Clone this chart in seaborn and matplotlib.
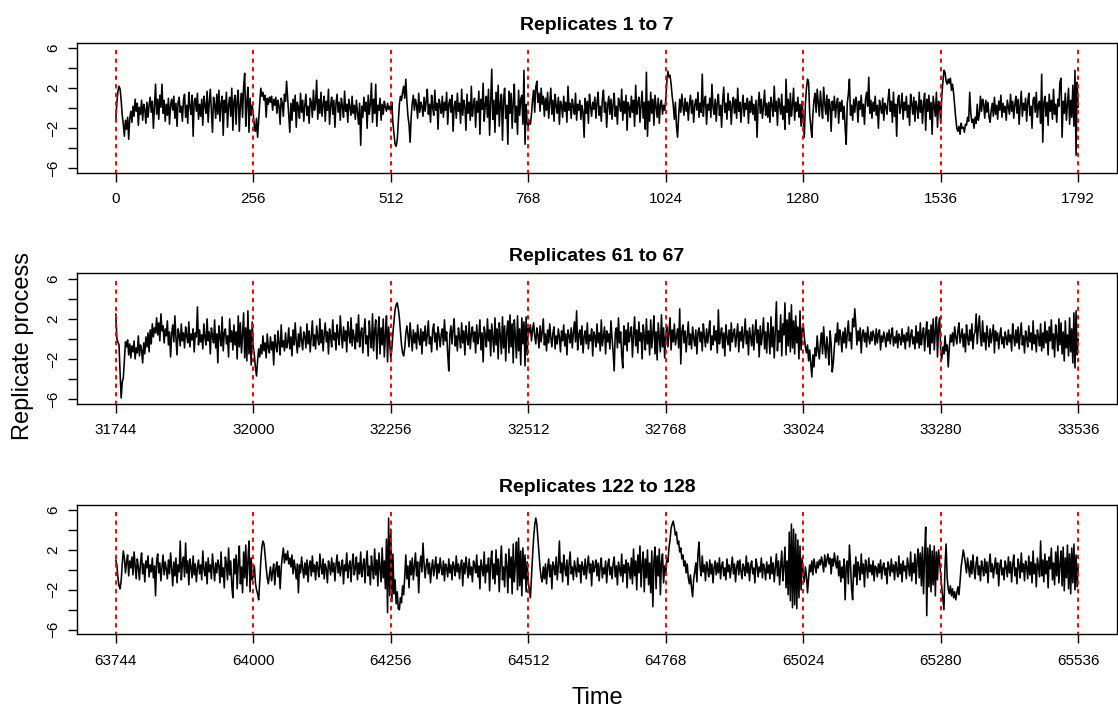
import numpy as np
import pandas as pd
import seaborn as sns
import matplotlib
matplotlib.use("Agg")
import matplotlib.pyplot as plt

sns.set_theme(style="ticks")
plt.rcParams['font.family'] = ['Liberation Sans', 'DejaVu Sans']
plt.rcParams['text.color'] = 'black'
plt.rcParams['axes.labelcolor'] = 'black'
plt.rcParams['xtick.color'] = 'black'
plt.rcParams['ytick.color'] = 'black'

# ---- data -------------------------------------------------------------
panel_titles = ["Replicates 1 to 7", "Replicates 61 to 67", "Replicates 122 to 128"]
panel_starts = [0, 31744, 63744]
block_len = 256
n_blocks = 7
y_ticks = [-6, -4, -2, 0, 2, 4, 6]
y_tick_labels = ["\u22126", "", "\u22122", "", "2", "", "6"]

# sampled every 2 time steps, 16 samples (32 steps) per row
rep_1_7 = [
    -1.2, 0.6, 1.7, 2.2, 1.9, 0.8, -0.7, -1.6, -2.8, -1.2, -2.1, -0.9, -3.1, -1.0, -0.3, -1.4,
    0.2, -0.8, 0.9, -0.3, 0.5, -1.7, 0.1, -0.6, 0.8, -1.2, 0.4, -0.1, -1.5, 0.6, -0.9, 0.3,
    1.1, -0.4, 0.7, -2.0, 0.2, 2.4, -0.6, 0.9, -1.1, 1.3, 0.1, 2.4, -0.5, 0.8, -1.3, 0.4,
    -0.7, 1.0, -1.6, 0.3, 0.9, -0.2, 1.2, -1.0, 0.5, -1.8, 0.6, 1.1, -0.4, 0.2, -1.3, 0.8,
    1.4, -0.9, 0.3, -1.5, 1.6, 0.2, -0.6, 1.3, -2.8, 0.7, 1.0, -0.3, 1.5, -1.1, 0.4, -0.8,
    0.9, -1.7, 1.2, 0.3, -0.5, 1.7, -1.4, 0.6, 1.9, -0.2, -2.4, 1.1, 0.4, -1.0, 1.4, -0.6,
    1.8, -1.3, 0.5, 1.2, -2.7, 0.8, -0.4, 1.6, -1.9, 0.3, 1.1, -0.8, 2.0, -2.2, 0.7, 1.3,
    -1.6, 0.9, 1.8, -2.3, 0.4, 1.5, -0.9, 2.2, 3.5, -1.8, 0.6, 2.1, -2.4, 1.0, -0.7, 0.3,
    -0.6, -1.8, -2.3, -1.0, -2.9, -1.2, 0.5, 2.0, 1.2, 1.6, 0.8, 1.3, -0.9, 1.0, 0.4, 1.1,
    0.6, 1.2, -0.2, 0.9, 0.3, 1.1, -0.5, 0.8, 0.2, -1.6, 1.0, 0.5, -0.8, 1.4, 0.7, 2.7,
    1.0, -0.6, -2.4, 0.5, -1.2, 0.9, -0.3, 1.3, -1.9, 0.6, 0.1, -1.0, 1.5, -0.4, 0.8, -1.3,
    0.3, 1.4, -0.7, 0.2, -1.5, 1.0, 0.6, -0.9, 1.8, -0.2, 0.5, 2.8, -1.1, 0.9, -0.5, 1.6,
    -0.8, 0.4, 1.2, -1.3, 0.7, -0.2, 1.9, -1.6, 0.3, 1.1, -0.6, 0.8, -1.9, 0.5, 1.4, -0.4,
    0.6, -1.2, 1.0, 0.2, -0.9, 1.7, -0.3, 0.4, -1.4, 0.9, 0.1, -0.7, 1.2, -0.5, 0.3, -1.1,
    0.8, -0.4, -1.6, 0.5, -3.7, 0.2, -0.9, 1.1, -0.3, 0.6, -2.0, 1.3, -0.6, 0.4, 2.5, -1.4,
    0.9, -0.5, 2.4, -1.8, 0.3, -0.2, 1.0, -1.2, 0.4, -0.6, 0.7, 0.1, -0.3, 0.5, -0.1, 0.2,
    -0.4, 0.6, -1.5, -2.6, -3.6, -3.8, -3.2, -1.4, 0.4, 1.2, 0.8, 1.6, 2.2, 1.0, 2.9, 0.7,
    -0.8, -1.6, -3.4, -0.9, 0.5, 1.3, -0.2, 0.9, 0.3, -1.0, 1.5, -0.4, 0.6, 0.2, -0.8, 1.1,
    -0.3, 0.7, 1.9, -0.6, 0.4, -1.4, 1.3, 0.1, -0.7, 1.8, -0.2, 0.5, -2.1, 0.9, 0.3, -0.5,
    1.2, -0.9, 0.6, -0.2, 1.6, -1.6, 0.4, 0.9, -0.4, 1.3, -2.3, 0.2, 0.7, -1.0, 1.5, -0.3,
    0.5, -1.5, 1.9, -0.7, 0.8, 0.2, -2.2, 1.4, -0.5, 0.6, -1.2, 2.2, -0.8, 0.3, 1.0, -1.9,
    0.7, -0.4, 1.7, -2.6, 0.9, -0.1, 2.5, -1.3, 0.4, 1.2, -0.9, 1.9, -2.7, 0.6, 3.9, -1.1,
    0.8, -2.4, 1.6, -0.6, 2.3, -1.8, 0.5, 1.4, -3.2, 0.9, 2.0, -1.0, 0.3, -3.6, 1.7, -0.5,
    1.5, -2.0, 0.6, 2.4, -1.4, 0.2, -2.6, 1.8, -0.7, 0.9, 1.3, -1.6, 3.8, -3.6, 0.4, -1.5,
    -1.8, -1.2, -1.6, -0.6, 0.9, 1.8, -0.4, 2.1, 2.7, 0.6, 1.5, -0.3, 2.0, 0.4, 1.2, -0.8,
    1.0, -0.2, 1.6, -1.0, 0.5, 2.0, -0.6, 0.8, -1.3, 1.4, 0.2, -0.5, 1.1, -1.6, 0.7, 0.3,
    -0.9, 1.2, -0.3, 0.6, -1.4, 2.2, -0.2, 0.5, -1.0, 0.9, 0.1, -0.6, 1.5, -1.2, 0.4, -0.2,
    0.8, -1.1, 0.3, -0.4, -2.9, 1.0, -0.5, 0.7, -1.5, 1.4, 0.2, -0.8, 0.6, -0.1, 1.1, -1.0,
    0.5, 1.6, -0.7, 0.2, -1.3, 0.9, 1.8, -0.4, 0.6, -1.9, 0.3, 1.2, -0.6, 0.9, -1.1, 0.4,
    1.5, -0.8, 0.2, -1.6, 1.0, 0.4, -0.3, 1.9, -1.2, 0.7, -0.5, 1.3, -2.2, 0.6, 0.1, -0.9,
    1.2, -0.4, 0.8, -1.8, 2.3, -0.6, 0.5, 1.1, -1.4, 0.3, 1.7, -1.0, 0.6, -2.1, 3.6, -2.8,
    0.7, -1.3, 1.6, -0.5, 0.9, -1.7, 1.3, 0.2, -0.9, 1.0, -1.5, 0.4, 0.8, -0.6, 0.3, -0.2,
    0.8, 2.6, 3.7, 3.1, 3.3, 2.4, 1.2, 0.3, -1.1, 0.6, -1.8, -2.9, -0.8, 0.9, -0.4, 1.4,
    0.2, -0.7, 1.0, -0.3, 0.6, -1.2, 0.4, 1.3, -0.5, 0.8, -1.4, 0.3, 0.9, -0.2, 1.6, -0.9,
    0.5, -0.4, 3.4, -0.8, 0.7, 1.2, -1.6, 0.4, -0.2, 1.0, -0.9, 2.4, 0.1, -0.6, 0.9, -1.3,
    0.6, 1.4, -0.7, 0.3, -1.9, 0.8, 2.1, -0.4, 0.5, -1.1, 1.5, -0.2, 0.7, -1.6, 0.4, 1.1,
    -0.5, 0.9, -1.0, 2.0, -0.3, 0.6, -1.4, 0.2, 1.3, -0.8, 0.5, -0.1, 1.0, -1.5, 0.7, -0.4,
    1.2, -0.6, 0.4, -1.2, 0.8, -2.9, 0.3, 1.6, -0.5, 0.9, -1.0, 0.2, 1.8, -0.7, 0.5, -0.9,
    0.6, -1.4, 1.1, 0.3, -0.8, 2.2, -0.3, 0.7, -1.7, 1.0, 0.4, -0.6, 1.4, -1.1, 0.2, -2.1,
    2.9, -0.4, 0.9, -1.6, 1.5, -0.8, 0.3, 2.0, -1.2, 0.6, -0.3, 1.1, -0.9, 0.4, -1.8, 0.7,
    -1.2, -2.9, 0.4, 2.0, 2.9, 2.6, -0.5, -1.8, -2.9, -0.6, 0.8, 1.5, -0.4, 1.9, 0.6, -0.8,
    1.7, 0.2, -1.0, 2.1, 0.5, -0.6, 1.3, -1.3, 0.9, 0.3, -2.3, 0.7, -0.2, 1.2, -0.9, 0.4,
    1.0, -1.5, 0.6, -0.3, 0.8, -1.1, 0.2, -1.9, -3.6, 0.5, 1.4, 2.9, -0.7, 0.3, -1.2, 0.9,
    -0.4, 1.1, 0.5, -1.4, 0.7, -0.1, 1.3, -0.8, 0.4, -1.6, 0.9, 1.6, 0.2, 3.1, -0.5, 0.8,
    -1.0, 0.6, -0.3, 1.2, -0.7, 0.3, -2.0, 0.8, 0.1, -0.5, 1.0, -1.2, 0.5, 0.2, -0.6, 0.9,
    1.9, -0.3, 0.7, -1.4, 1.6, -0.8, 0.4, -2.8, 0.9, 1.3, -0.5, 0.2, 1.5, -1.1, 0.6, -0.2,
    1.2, -0.9, 0.3, -1.7, 1.4, 0.5, -0.6, 1.1, -1.3, 0.7, 0.1, -1.0, 1.6, -0.4, 0.8, -1.5,
    0.4, 1.5, -2.2, 0.9, -0.3, 1.3, -1.1, 0.6, -2.6, 1.2, 0.2, -0.8, 1.6, -1.9, 0.7, 0.3,
    -1.5, 1.2, 2.6, 3.8, 3.6, 2.7, 2.4, 2.9, 2.5, 3.0, 1.8, 2.4, 1.5, 0.2, -1.0, -2.0,
    -2.3, -1.8, -2.6, -1.5, -2.0, -1.9, -2.4, -1.6, -1.7, -0.9, -1.3, 1.6, -0.5, -1.4, -1.1, -2.0,
    -0.9, -1.5, 0.4, -1.2, -0.6, 1.2, -0.3, 0.9, 0.4, -1.0, 0.8, -0.4, 0.6, -0.9, -1.4, -0.2,
    0.5, -0.8, 1.1, -0.6, 0.3, -1.1, 0.7, -0.2, 1.3, -0.9, 0.5, -0.4, 0.2, -1.2, 0.8, 0.1,
    -0.6, 1.4, -0.3, 0.7, -1.0, 0.4, 1.2, -0.5, 0.9, -1.6, 0.3, 1.7, -0.8, 0.5, -0.2, 1.0,
    -1.3, 0.6, 1.5, -0.7, 0.2, -2.0, 0.9, 1.1, -0.4, 1.6, -0.9, 0.3, 0.7, -1.5, 3.4, -3.4,
    0.5, 1.2, -0.8, 0.6, -1.7, 1.4, -0.3, 0.8, -1.1, 1.9, -0.6, 0.4, -1.4, 0.9, 0.2, 2.6,
    3.0, -2.9, 0.7, -0.5, 1.5, -1.2, 0.4, 2.0, -1.6, 0.8, -0.9, 2.3, -1.8, 3.8, -4.7, 2.6,
    0.1,
]

rep_61_67 = [
    2.5, 0.0, -0.3, -0.6, -3.4, -5.9, -4.3, -3.9, -2.1, -0.3, -0.8, -0.1, -1.6, -0.5, -1.9, -0.7,
    -1.3, -0.2, -2.0, -0.9, -1.4, 0.3, -1.7, -0.6, -1.1, -2.4, -0.4, -1.5, 0.2, -0.8, 0.6, -1.3,
    0.9, -0.5, 1.5, 0.2, 1.1, 0.6, 2.1, 0.4, 1.6, -0.2, 2.5, 0.8, 1.3, -0.4, 1.0, 0.3,
    1.8, -0.6, 0.7, -1.8, 0.5, 1.4, -0.3, 2.3, 0.1, -1.6, 1.0, 0.4, -0.7, 1.5, -0.2, 0.6,
    -0.9, 1.2, 0.3, -0.4, 1.7, -0.8, 0.5, -0.1, 1.0, -1.3, 0.6, 0.2, 3.2, -0.6, 0.9, -0.3,
    0.4, -1.0, 1.5, 0.1, -0.6, 2.0, -0.2, 0.7, -1.5, 1.1, 0.3, -0.4, 1.9, -0.9, 0.5, -2.4,
    1.3, 0.2, -0.7, 2.2, -1.2, 0.6, 1.0, -0.5, 0.3, -1.8, 2.0, -0.3, 0.8, -1.1, 1.4, -0.6,
    0.7, -2.0, 2.3, -0.8, 1.6, -1.4, 0.4, 2.6, -1.9, 1.1, -2.2, 2.8, -1.5, 0.9, -2.6, 1.7,
    -0.8, -1.6, -2.9, -3.7, -2.2, -1.0, -1.8, -0.6, -1.5, 0.3, -1.2, -0.4, -1.9, 0.5, -0.9, -1.4,
    0.2, -1.1, -0.3, -2.6, 0.4, -0.7, -1.3, 0.8, -0.5, -1.6, 1.4, -0.8, -0.2, -1.2, 0.6, -0.9,
    -0.4, 1.1, -1.0, 0.2, -1.7, 0.9, -0.6, 1.6, -0.3, -1.4, 0.5, -0.8, 1.2, -0.2, -1.1, 0.7,
    0.3, -0.9, 1.5, -0.5, 0.8, -1.3, 0.2, 1.8, -0.7, 0.4, -1.0, 1.3, 0.1, -0.6, 2.0, -0.4,
    0.9, -1.2, 0.5, 1.6, -0.3, 0.7, -1.5, 1.0, 0.2, -0.8, 1.9, -0.1, 0.6, -1.1, 1.4, 0.3,
    -0.6, 2.3, 0.4, -0.9, 1.2, -0.2, 0.8, -1.3, 1.7, 0.5, -0.4, 2.1, -0.7, 0.9, 0.1, -1.0,
    1.5, -0.3, 2.4, -0.8, 0.6, 1.1, -1.4, 0.7, 2.0, -0.5, 0.3, -1.7, 1.8, 0.2, -0.9, 2.5,
    -1.2, 0.8, 1.9, -2.0, 0.5, 2.2, -1.5, 1.1, -0.6, 2.0, -1.8, 0.4, 2.3, -2.3, 1.2, -0.4,
    -1.9, -1.0, 0.6, 1.8, 2.9, 3.4, 3.6, 3.0, 2.1, 0.8, -0.6, -1.4, -1.7, -0.9, 0.5, 1.3,
    0.4, -0.8, 1.6, 0.2, -1.2, 0.9, -0.4, 0.6, -1.0, 1.4, 0.1, -0.6, 1.0, -1.5, 0.7, -0.2,
    1.3, -0.7, 0.4, 1.8, -0.5, 0.2, -1.3, 0.9, 1.5, -0.3, 0.6, -1.1, 1.2, 0.3, -0.8, 0.5,
    1.0, -0.6, 1.9, -0.2, 0.7, -1.5, -3.2, 0.4, 1.3, -0.5, 0.9, 2.0, -0.7, 0.3, -1.2, 1.1,
    0.2, -0.9, 1.6, -0.4, 0.8, -1.6, 1.3, 0.1, -0.6, 1.7, -1.0, 0.5, 1.2, -0.3, 0.7, -1.4,
    1.4, -0.5, 0.3, 1.9, -1.1, 0.6, -2.3, 1.2, 0.4, -0.8, 2.0, -0.2, 0.9, -1.7, 1.5, 0.1,
    -1.3, 2.1, -0.6, 1.0, -2.0, 1.6, 0.3, -1.5, 2.2, -0.9, 1.3, -2.2, 0.7, 1.8, -1.4, 2.4,
    -0.8, 1.5, -2.4, 1.9, 0.2, -1.9, 2.3, -1.2, 1.0, -2.6, 2.1, -0.5, 1.7, -2.7, 2.2, -1.6,
    1.2, 0.6, 1.4, -0.2, 0.9, 1.6, 0.3, -0.5, 1.1, 0.4, -0.9, 1.3, -0.3, 0.7, 2.0, -0.6,
    0.5, -1.2, 0.9, -0.4, 1.5, 0.1, -0.8, 0.6, 1.2, -1.0, 0.3, -0.5, 1.0, 0.2, -1.3, 0.8,
    -0.2, 1.4, -0.7, 0.5, -1.6, 0.9, 0.3, -0.4, 1.1, -0.9, 0.6, 1.7, -0.3, 2.8, -1.1, 0.4,
    0.9, -0.6, 1.3, -1.4, 0.2, 0.8, -0.5, 1.6, -1.0, 0.4, -0.2, 1.0, -1.7, 0.7, 0.3, -0.8,
    1.5, -0.4, 0.6, -1.2, 1.9, -0.7, 0.3, 1.2, -1.5, 0.8, -0.3, 0.5, -1.0, 1.8, 0.1, -1.3,
    -3.2, 0.6, 1.1, -0.9, 2.1, -0.4, 0.7, -1.6, -2.9, 1.3, -0.6, 0.9, -1.2, 1.6, -0.3, 0.5,
    1.2, -1.8, 0.4, 2.2, -0.7, 0.9, -1.4, 1.7, -0.2, 0.6, -2.0, 1.4, 0.3, -1.1, 2.0, -0.5,
    0.8, -1.6, 1.9, -0.9, 0.5, 2.3, -1.5, 0.7, -2.1, 1.6, 0.2, -1.3, 2.4, -0.8, 1.1, -1.9,
    0.4, 1.3, -0.8, 0.6, 2.1, -1.1, 0.9, -0.3, 1.5, -0.6, 0.2, 1.0, -0.9, 3.0, -2.5, 0.7,
    1.4, -0.4, 0.8, -1.3, 0.3, 1.7, -0.6, 0.5, -1.0, 1.2, 0.1, -0.7, 0.9, -1.5, 0.6, 1.1,
    -0.3, 0.7, -1.2, 1.5, 0.2, -0.8, 1.0, -0.4, 0.6, 1.8, -1.1, 0.3, -0.6, 1.3, -0.2, 0.8,
    -1.4, 2.9, -0.5, 0.4, 1.1, -0.9, 0.6, -1.7, 1.4, 0.2, -0.6, 0.9, -1.2, 1.6, -0.3, 0.5,
    1.0, -0.8, 0.3, 1.5, -1.3, 0.7, -0.2, 1.2, -0.9, 0.4, 2.0, -0.5, 0.8, -1.6, 1.1, 0.2,
    -0.7, 1.4, -1.1, 0.6, 1.9, -0.4, 0.9, -1.8, 1.3, -0.6, 0.5, 2.1, -1.0, 0.7, -1.4, 1.6,
    0.3, -1.5, 2.2, -0.8, 1.2, -1.9, 1.0, 3.7, -1.2, 0.8, -0.3, 2.4, -1.7, 1.5, 0.4, 3.6,
    -1.6, 1.9, -0.7, 2.6, -1.3, 3.4, -0.9, 1.8, -1.5, 2.3, -0.4, 1.2, -2.0, 2.8, -1.1, 0.9,
    1.5, 0.2, -0.8, -1.4, -0.6, -2.2, -1.1, -2.5, -3.8, -1.6, -2.8, -0.9, -1.7, 0.3, -1.2, -2.0,
    -0.4, 0.6, -1.5, 1.2, -0.7, -1.9, 0.2, -1.0, -2.6, 0.8, -0.5, -3.3, -2.4, -0.8, 0.5, -0.3,
    1.6, -0.6, 0.9, 0.2, -1.3, 0.7, -0.4, 1.1, -0.9, 0.4, 1.8, -0.2, 0.6, -1.0, 2.0, 1.2,
    3.0, 1.4, -0.6, 0.8, -0.2, 1.1, -1.4, 0.5, 0.9, -0.3, 0.6, -0.8, 1.2, 0.1, -0.5, 0.7,
    -0.2, 0.8, 0.3, -0.6, 1.0, -0.4, 0.5, 0.9, -1.1, 0.3, -0.3, 0.7, 0.1, -0.8, 0.6, -0.2,
    0.9, -0.5, 0.4, 1.1, -0.7, 0.2, -0.4, 0.8, -0.9, 0.5, 0.1, -0.6, 1.0, -0.3, 0.4, -1.0,
    0.6, -0.2, 1.2, -0.8, 0.3, 0.9, -0.5, 0.2, -1.0, 1.3, -0.4, 0.7, -0.9, 1.6, -0.6, 0.4,
    1.1, -1.2, 0.5, 1.7, -0.8, 0.9, -1.5, 1.4, -0.4, 2.0, -1.1, 0.8, 2.2, -1.8, 1.3, 2.1,
    -1.4, -2.0, -0.8, -1.5, 0.3, -1.2, -0.6, -2.8, -0.9, 0.4, -0.3, 0.6, -0.7, 1.2, 0.2, -0.5,
    0.8, 1.6, -0.4, 0.3, 1.0, -0.8, 0.5, -1.3, 1.4, 0.1, -0.6, 0.9, -0.2, 1.5, -1.0, 0.4,
    0.7, 2.5, -0.5, 1.1, 2.3, 0.2, -0.7, 1.8, -0.3, 0.6, -1.1, 1.3, 0.3, -0.8, 1.0, -0.4,
    0.5, 1.4, -1.4, 0.8, -0.2, 0.6, -1.0, 0.3, 1.1, -0.5, 0.2, -0.9, 0.7, 0.1, -0.6, 0.9,
    -0.3, 0.4, -1.2, 1.5, 0.2, -0.7, 0.9, -0.4, 1.2, -1.0, 0.5, 1.6, -0.6, 0.3, -1.4, 0.8,
    0.1, -0.8, 1.3, -0.3, 0.6, -1.1, 1.8, -0.5, 0.4, -1.3, 0.9, 0.2, -0.7, 1.5, -1.2, 0.6,
    -0.9, 1.7, -0.4, 0.8, -1.6, 1.2, -0.2, 1.9, -1.0, 0.5, -1.8, 1.4, 0.3, -1.2, 2.0, -0.6,
    1.6, -1.5, 0.7, -2.2, 1.8, -0.9, 0.4, -1.7, 2.1, -1.3, 1.0, -2.4, 2.6, -2.9, 2.8, -1.6,
    0.0,
]

rep_122_128 = [
    1.0, 0.5, -0.8, -1.6, -1.9, -1.1, 0.6, 1.9, 1.2, -0.3, 0.8, 1.5, -0.6, 0.9, 0.2, 1.3,
    -0.5, 1.8, 0.4, -0.9, 1.1, 0.3, -1.0, 0.7, 1.7, -0.4, 0.6, -1.2, 0.9, 0.2, 1.4, -0.7,
    0.5, -0.2, 1.2, -0.8, 0.4, -2.6, 0.9, 1.6, -0.3, 0.7, -1.1, 0.3, 1.5, -0.5, 0.8, 0.1,
    -0.9, 1.0, -0.4, 1.7, 0.2, -1.6, 0.8, -0.6, 1.2, -1.3, 0.5, -0.2, 2.9, -1.0, 0.7, 1.3,
    -0.7, 2.7, -0.3, 0.9, -1.5, 1.1, 0.3, -0.8, 1.4, -0.5, 0.6, -1.2, 0.2, 1.0, -0.4, 0.5,
    -1.0, 1.9, 0.1, -0.6, 0.8, -1.4, 1.2, -0.2, 0.5, -0.9, 1.6, 0.3, -1.1, 0.7, -0.3, 1.0,
    0.4, -1.3, 1.8, -0.7, 0.2, -1.8, 1.3, 0.6, -1.0, 2.2, -0.5, 0.9, -1.6, -2.8, 1.1, -0.4,
    1.5, -1.9, 0.7, 2.4, -1.4, 0.3, -2.3, 1.8, -0.8, 2.5, -1.6, 0.9, 2.9, -2.2, 1.2, -1.0,
    -0.6, 0.4, -1.3, -2.0, -2.4, -3.0, -1.2, 0.9, 2.3, 2.9, 2.6, 1.5, 0.2, -0.8, -1.4, -0.5,
    0.3, -1.1, -0.2, 0.6, -1.5, 0.1, 0.8, -0.7, 0.4, -1.9, 0.2, 1.3, 2.2, 0.7, 1.6, 1.0,
    1.9, 0.6, 1.2, 0.3, 1.5, -0.4, 1.0, 0.2, -0.9, 0.6, -2.3, 0.5, -0.3, 1.3, 0.1, -0.8,
    0.7, -0.5, 1.0, -1.2, 0.4, 0.9, -0.6, 1.4, -0.2, 0.5, -1.0, 0.8, 0.2, -0.7, 1.6, 0.3,
    -0.4, 1.1, -0.9, 0.6, 0.1, -1.3, 0.9, 0.4, -0.5, 1.2, -0.2, 0.7, -1.1, 0.5, 1.5, -0.3,
    0.8, -0.6, 0.3, 1.0, -1.4, 0.5, -0.1, 1.7, -0.8, 0.4, 0.9, -1.2, 0.6, 1.6, -0.5, 0.2,
    1.3, -1.0, 0.7, -0.4, 1.8, -0.7, 0.3, 1.1, -1.3, 0.6, 1.9, -0.6, 0.4, -1.5, 1.4, 0.1,
    -0.9, 2.1, -0.5, 1.0, -1.6, 1.7, 0.3, -1.2, 2.2, -0.8, 0.9, -1.9, 3.1, -4.3, 5.2, -2.6,
    4.1, -3.2, 1.6, -2.4, -1.0, -3.4, -2.2, -3.9, -4.0, -2.8, -3.3, -1.6, -2.5, -0.7, 1.5, -0.9,
    0.4, -1.8, 0.9, -0.5, 1.2, -1.0, 0.3, 1.7, -0.6, 0.8, -2.3, 0.5, 1.4, -0.2, 2.7, 0.6,
    -0.8, 0.5, 1.1, -0.4, 0.7, -1.3, 0.2, 1.0, -0.6, 0.4, 1.3, -0.9, 0.6, -0.3, 1.2, 0.1,
    -0.5, 0.9, -1.1, 0.6, 0.2, -0.7, 1.1, -0.3, 0.5, -1.0, 0.8, 0.3, -0.6, 1.4, -0.2, 0.6,
    -0.9, 0.4, 1.0, -1.6, 0.7, -0.4, 1.3, 0.2, -0.8, 1.1, -0.5, 0.3, -1.2, 0.9, 0.5, -0.3,
    1.5, -0.7, 0.4, -1.9, 1.0, 0.2, -0.6, 1.8, -1.3, 0.5, -0.2, 1.2, -2.1, 0.8, 1.9, -0.9,
    0.6, -1.4, 2.0, -0.5, 1.1, -2.2, 0.7, 2.4, -1.0, 0.3, -1.7, 1.6, 0.4, -2.3, 2.1, -0.8,
    1.3, -2.4, 2.6, -1.2, 0.5, 2.8, -2.0, 3.2, -1.6, 1.9, -2.6, 2.2, -0.9, 1.5, -2.2, 0.8,
    -1.2, -2.0, -2.8, -0.6, 1.4, 3.2, 4.5, 5.2, 4.6, 3.1, 1.5, 0.2, -0.8, -1.2, 0.3, -0.9,
    0.6, -1.4, 0.2, 1.1, -0.7, 0.5, -1.9, 0.8, 0.3, -0.5, 1.3, -1.0, 0.4, 2.9, -0.3, 0.7,
    -1.2, 1.5, 0.2, -0.6, 1.0, -1.5, 0.6, 1.8, -0.4, 0.3, -1.0, 0.9, 0.1, -0.7, 1.2, -0.2,
    0.5, -1.3, 0.8, 0.2, -0.5, 1.1, -0.9, 0.4, 1.4, -0.3, 0.6, -1.6, 0.9, -0.2, 0.3, 1.0,
    -0.6, 0.7, -1.1, 0.4, 1.2, -0.8, 0.2, -0.4, 0.9, -1.3, 0.5, 1.1, -0.5, 0.3, -0.9, 0.6,
    1.3, -0.7, 0.4, -1.5, 0.8, 0.1, -0.6, 1.6, -1.2, 0.5, -0.3, 1.0, -1.8, 0.7, 0.2, -0.9,
    1.2, -1.4, 2.1, -0.6, 0.9, -2.0, 1.5, -0.3, 2.4, -1.7, 0.6, 1.8, -2.2, 1.1, -0.8, 2.0,
    -1.5, 0.7, -2.3, 1.9, -3.7, 0.9, 2.3, -1.9, 1.4, -0.6, 2.1, -2.5, 0.8, 1.6, -1.3, 0.4,
    -0.5, 1.2, 0.8, 2.2, 3.0, 4.2, 4.6, 4.9, 4.3, 3.5, 3.8, 2.6, 2.9, 1.8, 2.2, 1.1,
    1.5, 0.4, 0.9, -0.3, 0.6, -0.8, -1.4, -0.5, -1.8, -2.7, -0.9, -0.2, 0.7, -1.2, 1.6, 2.8,
    0.3, -0.6, 1.4, -0.2, 0.5, -1.1, 0.8, 0.1, -0.7, 1.0, -0.4, 0.6, -1.3, 0.2, 0.9, -0.5,
    0.7, -0.3, 1.2, -0.9, 0.4, 0.8, -0.6, 0.2, -1.0, 1.1, -0.2, 0.5, -0.8, 0.3, 1.3, -0.4,
    0.6, -1.2, 0.3, 0.9, -0.5, 1.0, -0.1, -0.9, 0.6, 0.2, -0.6, 1.4, -0.3, 0.7, -1.1, 0.4,
    0.9, -0.4, 0.2, -1.3, 1.1, 0.5, -0.7, 0.3, -0.2, 1.2, -0.8, 0.6, 0.1, -1.0, 0.8, -0.3,
    0.5, -0.9, 1.3, -0.4, 0.7, -1.2, 0.2, 1.6, -0.6, 0.9, -1.5, 0.4, 1.9, -1.1, 0.3, 2.3,
    -1.8, 0.9, -2.5, 3.8, -3.1, 4.6, -3.8, 4.1, -3.5, 3.6, -3.9, 3.0, -2.8, 2.4, -2.0, 1.2,
    -0.4, -1.2, 0.3, -0.6, -2.3, -0.8, 0.5, -0.2, 0.9, -0.5, 1.1, 0.4, -0.3, 0.8, 0.2, 1.0,
    0.5, 1.3, 0.7, -0.2, 1.5, 0.3, 1.0, 1.6, 0.6, 1.2, -0.4, 1.1, 0.4, 1.7, 0.8, 0.2,
    1.4, -0.6, 0.9, -1.2, 0.3, -0.8, 1.1, -3.0, 0.4, 0.9, -1.4, 2.5, 0.6, -1.9, -3.0, 0.5,
    -0.7, 1.3, -1.5, 0.8, 0.2, -1.0, 1.6, -0.4, 0.6, -1.7, 1.0, 0.3, -0.8, 1.2, -0.2, 0.5,
    -0.5, 0.9, -1.1, 0.4, 0.2, -0.7, 0.6, -0.3, 1.0, -0.9, 0.3, 0.7, -0.5, 0.2, -1.4, 0.8,
    0.3, -0.6, 1.1, -0.2, 0.5, -1.0, 0.8, 0.1, -0.7, 1.4, -0.4, 0.6, -1.2, 0.9, -0.1, 0.4,
    -0.9, 1.2, 0.3, -0.6, 1.8, -1.1, 0.7, -0.3, 1.6, -1.4, 0.9, 2.1, -0.8, 1.7, -1.6, 2.3,
    -2.4, 1.5, 4.3, -4.6, 2.2, -1.7, 2.5, -2.2, 1.9, -1.5, 2.4, -2.6, 1.8, -1.0, 2.0, 0.7,
    -0.6, -1.8, -2.9, -4.0, 0.4, 2.6, -0.8, -1.9, -2.4, -1.6, -2.6, -1.9, -2.8, -2.2, -3.0, -2.3,
    -1.7, -2.5, -1.2, 0.3, 1.1, 2.0, 1.4, 0.6, -0.3, 1.2, 0.2, -0.7, 0.9, -0.4, 1.5, 0.1,
    -0.9, 0.7, 1.3, -0.5, 0.4, -1.1, 0.9, 0.2, -0.6, 1.1, -0.3, 0.8, -1.3, 0.5, 1.6, -0.2,
    0.6, -0.8, 0.3, 1.2, -0.4, 0.7, -1.6, 0.4, 1.0, -0.5, 0.2, -1.0, 0.9, 0.3, -0.7, 1.3,
    -0.3, 0.8, -1.2, 0.5, 1.5, -0.6, 0.2, -1.4, 1.1, 0.4, -0.8, 1.7, -0.2, 0.6, -1.1, 0.9,
    0.3, -0.9, 1.4, -0.5, 0.8, -1.3, 1.9, -0.4, 0.6, -1.7, 1.2, 0.2, -0.7, 2.9, -0.6, 1.0,
    -1.2, 1.6, -0.4, 0.9, -1.8, 1.3, 0.1, 2.2, -1.0, 0.7, -1.5, 1.8, -0.6, 2.4, -1.3, 0.5,
    1.9, -1.6, 2.3, -2.1, 1.2, -0.8, 2.5, -1.9, 1.6, -2.4, 2.2, -1.3, 2.6, -2.0, 1.5, -1.7,
    0.4,
]

panel_values = [rep_1_7, rep_61_67, rep_122_128]

# ---- figure -------------------------------------------------------------
W, H = 1118, 715
fig = plt.figure(figsize=(W / 100, H / 100), dpi=100)
fig.patch.set_facecolor("white")

ax_left, ax_right = 77.3, 1116.7
panel_px = [(42.7, 173.0), (273.3, 403.7), (504.7, 634.3)]

span = block_len * n_blocks
pad_x = 0.04 * span

for (top, bottom), title, start, vals in zip(panel_px, panel_titles, panel_starts, panel_values):
    ax = fig.add_axes([ax_left / W, 1 - bottom / H, (ax_right - ax_left) / W, (bottom - top) / H])
    t = np.linspace(start, start + span, len(vals))
    df = pd.DataFrame({"time": t, "value": vals})
    sns.lineplot(data=df, x="time", y="value", ax=ax, color="black",
                 linewidth=1.15, estimator=None, sort=False, zorder=2)

    bounds = [start + block_len * k for k in range(n_blocks + 1)]
    ax.vlines(bounds, -6.6, 6.05, colors="red", linestyles=[(0, (2.2, 2.2))],
              linewidth=1.4, zorder=3)

    ax.set_xlim(start - pad_x, start + span + pad_x)
    ax.set_ylim(-6.47, 6.55)
    ax.set_xticks(bounds)
    ax.set_xticklabels([str(b) for b in bounds])
    ax.set_yticks(y_ticks)
    ax.set_yticklabels(y_tick_labels, rotation=90, va="center")
    ax.tick_params(axis="both", direction="out", length=6.5, width=1.0,
                   color="black", labelcolor="black", labelsize=11)
    ax.tick_params(axis="x", pad=7.5)
    ax.tick_params(axis="y", pad=6)
    for sp in ax.spines.values():
        sp.set_visible(True)
        sp.set_color("black")
        sp.set_linewidth(1.0)
    ax.grid(False)
    ax.set_facecolor("white")
    ax.set_xlabel("")
    ax.set_ylabel("")
    ax.set_title(title, fontsize=14, fontweight="bold", pad=9, color="black")

fig.text(597 / W, 1 - 698 / H, "Time", ha="center", va="center", fontsize=17,
         color="black")
fig.text(23 / W, 1 - 346 / H, "Replicate process", ha="center", va="center",
         rotation=90, fontsize=17, color="black")

fig.savefig("out.png", dpi=100, facecolor="white")
